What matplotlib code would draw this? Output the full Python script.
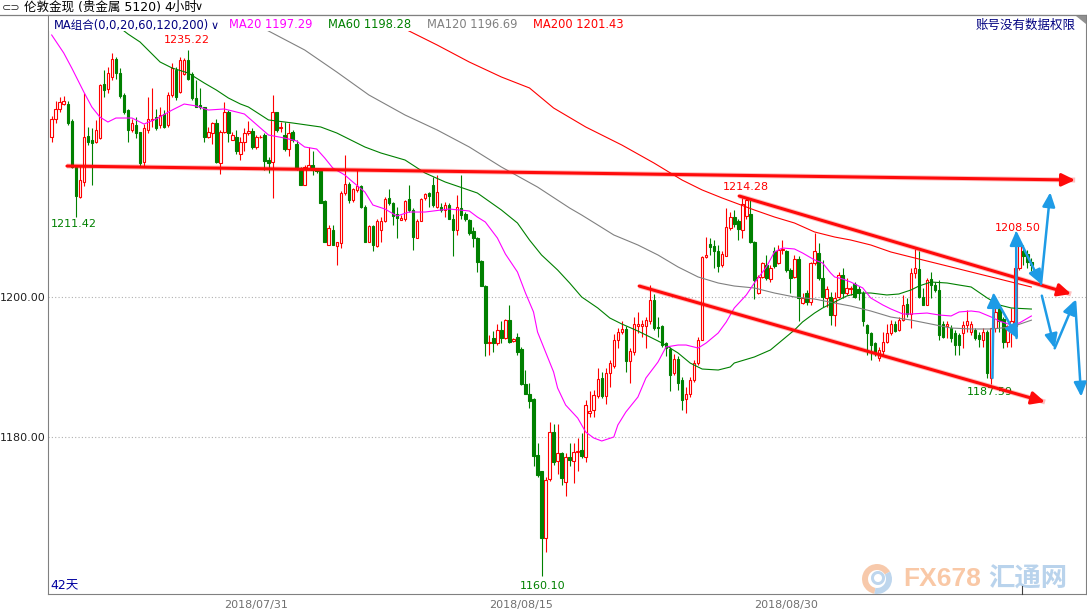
import numpy as np
import matplotlib
matplotlib.use("Agg")
import matplotlib.pyplot as plt
from matplotlib.patches import Rectangle, Polygon, Wedge
from matplotlib.lines import Line2D

plt.rcParams['font.family'] = ['DejaVu Sans', 'Noto Sans CJK SC']

# ---------------- data (4-hour candles, London gold) ----------------
opens = [1222.8, 1225.4, 1226.9, 1227.6, 1227.6, 1225.2, 1218.6, 1214.3, 1216.5, 1223.0,
         1222.5, 1222.1, 1222.7, 1230.4, 1229.7, 1231.5, 1234.0, 1232.0, 1228.8, 1226.7,
         1223.9, 1224.6, 1223.6, 1219.3, 1223.9, 1225.3, 1225.7, 1224.6, 1226.2, 1224.6,
         1228.9, 1232.5, 1229.3, 1231.9, 1233.9, 1231.9, 1228.4, 1227.4, 1227.2, 1222.9,
         1223.4, 1224.8, 1219.2, 1223.6, 1226.5, 1222.5, 1222.9, 1220.5, 1222.1, 1223.4,
         1223.7, 1221.5, 1222.8, 1223.1, 1219.6, 1219.3, 1226.4, 1224.1, 1223.2, 1221.2,
         1223.6, 1221.8, 1218.4, 1216.0, 1218.5, 1218.9, 1218.1, 1218.0, 1213.7, 1207.5,
         1209.6, 1207.3, 1207.7, 1214.8, 1216.1, 1213.9, 1215.3, 1215.9, 1212.9, 1207.9,
         1210.1, 1207.3, 1209.6, 1210.8, 1214.1, 1213.5, 1211.9, 1211.0, 1211.2, 1214.0,
         1212.4, 1208.5, 1210.9, 1214.1, 1214.8, 1216.0, 1212.9, 1212.9, 1212.4, 1213.1,
         1211.2, 1209.6, 1212.7, 1211.9, 1211.0, 1209.4, 1208.5, 1205.1, 1201.5, 1193.4,
         1194.1, 1193.4, 1195.3, 1194.1, 1196.7, 1193.7, 1194.3, 1192.6, 1187.5, 1186.2,
         1185.4, 1177.4, 1175.1, 1165.5, 1174.0, 1180.7, 1176.5, 1177.7, 1173.5, 1177.2,
         1176.6, 1177.8, 1178.1, 1177.2, 1183.4, 1183.9, 1185.8, 1188.4, 1185.9, 1189.1,
         1190.2, 1193.9, 1195.0, 1195.4, 1190.8, 1192.2, 1195.8, 1195.8, 1195.8, 1196.6,
         1199.6, 1195.7, 1195.8, 1193.4, 1192.6, 1189.1, 1191.2, 1188.1, 1185.4, 1186.2,
         1188.1, 1190.5, 1193.9, 1205.7, 1207.6, 1207.3, 1206.6, 1204.6, 1205.9, 1209.9,
         1211.5, 1210.9, 1209.6, 1211.6, 1211.9, 1207.9, 1200.5, 1202.9, 1204.6, 1202.5,
         1206.6, 1204.8, 1206.7, 1206.5, 1203.9, 1202.8, 1205.4, 1199.2, 1200.5, 1199.3,
         1204.8, 1206.3, 1202.7, 1199.9, 1200.0, 1197.4, 1200.0, 1203.1, 1200.5, 1201.1,
         1201.9, 1201.2, 1200.5, 1196.0, 1194.8, 1193.4, 1191.3, 1192.3, 1193.5, 1194.8,
         1196.2, 1195.3, 1196.7, 1199.0, 1197.5, 1203.4, 1204.0, 1200.0, 1198.9, 1202.6,
         1201.7, 1201.0, 1196.2, 1195.9, 1195.6, 1194.8, 1194.6, 1194.8, 1196.0, 1195.0,
         1195.3, 1194.5, 1193.9, 1195.0, 1188.4, 1195.5, 1198.4, 1196.9, 1193.6, 1195.5,
         1195.8, 1204.1, 1206.5, 1206.1, 1205.0]
highs = [1225.9, 1228.0, 1228.6, 1228.7, 1228.0, 1225.4, 1218.8, 1218.9, 1229.2, 1224.3,
         1224.1, 1225.3, 1230.5, 1232.4, 1232.8, 1234.9, 1234.3, 1232.7, 1229.1, 1226.8,
         1225.5, 1225.7, 1223.6, 1224.7, 1228.6, 1229.8, 1226.8, 1227.2, 1226.7, 1229.3,
         1233.5, 1232.8, 1234.3, 1234.1, 1235.22, 1232.2, 1231.0, 1229.8, 1227.2, 1224.3,
         1225.0, 1225.5, 1223.8, 1227.8, 1226.7, 1223.6, 1223.9, 1222.9, 1224.1, 1225.1,
         1224.1, 1223.1, 1223.1, 1223.4, 1220.0, 1228.9, 1226.5, 1225.0, 1225.0, 1224.8,
         1223.9, 1222.4, 1218.6, 1218.9, 1221.5, 1220.8, 1218.4, 1218.1, 1213.9, 1210.3,
         1210.3, 1207.9, 1215.1, 1220.3, 1216.5, 1215.6, 1218.1, 1216.0, 1213.1, 1210.3,
         1210.3, 1211.2, 1211.5, 1214.3, 1215.5, 1213.6, 1212.9, 1211.7, 1213.9, 1216.0,
         1212.7, 1211.2, 1214.2, 1214.9, 1215.0, 1217.2, 1217.5, 1213.4, 1213.6, 1213.4,
         1211.9, 1214.6, 1217.4, 1212.2, 1211.2, 1210.0, 1208.6, 1205.3, 1201.7, 1194.6,
         1195.1, 1196.2, 1196.5, 1196.9, 1198.9, 1194.2, 1194.8, 1192.8, 1189.6, 1187.7,
         1185.5, 1179.1, 1175.2, 1174.3, 1182.1, 1181.9, 1181.9, 1177.9, 1177.7, 1179.2,
         1179.2, 1179.8, 1180.5, 1185.3, 1186.5, 1186.7, 1189.8, 1189.3, 1189.8, 1191.0,
         1194.7, 1195.5, 1196.5, 1195.8, 1192.7, 1197.2, 1197.9, 1196.7, 1197.2, 1201.7,
         1200.4, 1197.2, 1196.0, 1193.6, 1192.9, 1191.9, 1191.5, 1188.6, 1187.2, 1188.6,
         1191.0, 1194.3, 1205.9, 1208.6, 1208.4, 1208.1, 1207.4, 1206.5, 1212.7, 1212.2,
         1212.5, 1211.1, 1214.1, 1214.28, 1213.8, 1208.0, 1203.1, 1205.0, 1206.0, 1204.6,
         1207.2, 1207.4, 1208.1, 1206.7, 1204.2, 1206.0, 1205.9, 1200.5, 1201.0, 1205.0,
         1209.2, 1207.7, 1205.3, 1201.5, 1200.7, 1200.7, 1203.6, 1204.1, 1202.7, 1201.6,
         1202.2, 1201.5, 1200.8, 1196.2, 1195.0, 1193.6, 1192.9, 1195.0, 1196.2, 1196.7,
         1196.5, 1197.2, 1200.3, 1199.8, 1204.1, 1206.9, 1206.5, 1201.3, 1202.7, 1203.6,
         1202.2, 1202.4, 1196.5, 1196.5, 1196.0, 1195.3, 1194.8, 1196.5, 1198.1, 1196.5,
         1195.5, 1195.0, 1195.5, 1195.3, 1195.5, 1198.4, 1198.9, 1197.2, 1196.0, 1198.4,
         1204.6, 1208.50, 1207.5, 1206.7, 1205.5]
lows = [1222.2, 1224.8, 1226.5, 1227.4, 1224.6, 1218.4, 1211.42, 1214.1, 1215.8, 1221.7,
        1216.0, 1222.0, 1222.6, 1228.6, 1229.1, 1231.0, 1231.2, 1228.4, 1226.2, 1222.2,
        1223.6, 1222.7, 1218.6, 1218.6, 1223.4, 1224.3, 1223.9, 1224.1, 1224.2, 1224.3,
        1228.6, 1228.2, 1229.1, 1231.7, 1231.0, 1228.1, 1227.1, 1226.9, 1222.2, 1222.7,
        1221.9, 1219.1, 1217.6, 1223.4, 1222.2, 1222.4, 1220.5, 1219.6, 1220.8, 1223.1,
        1221.2, 1221.2, 1222.7, 1218.2, 1217.7, 1214.1, 1223.6, 1223.6, 1220.8, 1220.1,
        1222.2, 1218.1, 1216.0, 1216.0, 1218.4, 1217.4, 1217.7, 1213.4, 1207.9, 1207.4,
        1207.4, 1204.6, 1207.0, 1214.6, 1213.4, 1213.6, 1215.0, 1212.7, 1207.9, 1207.9,
        1206.5, 1207.2, 1207.9, 1210.7, 1213.2, 1210.3, 1208.4, 1211.0, 1210.8, 1212.2,
        1206.7, 1208.4, 1210.8, 1213.9, 1212.9, 1212.9, 1212.7, 1212.2, 1211.5, 1211.1,
        1205.8, 1208.9, 1211.2, 1210.8, 1208.9, 1207.2, 1203.6, 1201.5, 1191.5, 1191.7,
        1192.2, 1193.1, 1193.4, 1194.0, 1193.4, 1193.6, 1191.7, 1187.4, 1186.2, 1184.1,
        1175.8, 1174.3, 1160.10, 1163.5, 1173.7, 1176.0, 1174.7, 1173.2, 1171.5, 1175.8,
        1173.4, 1175.1, 1177.0, 1176.4, 1182.9, 1182.8, 1185.6, 1185.5, 1184.7, 1187.2,
        1189.9, 1192.7, 1194.7, 1189.3, 1187.7, 1191.7, 1194.8, 1194.3, 1192.7, 1196.2,
        1195.3, 1194.3, 1192.9, 1191.5, 1186.5, 1188.9, 1186.7, 1183.9, 1183.4, 1185.7,
        1187.9, 1190.3, 1193.8, 1205.5, 1206.0, 1204.2, 1203.6, 1204.3, 1205.8, 1209.6,
        1210.0, 1208.1, 1208.4, 1211.2, 1207.7, 1199.7, 1200.4, 1202.7, 1202.4, 1202.2,
        1204.1, 1204.7, 1206.2, 1203.6, 1200.5, 1202.7, 1196.5, 1199.0, 1198.9, 1198.9,
        1204.6, 1202.4, 1198.6, 1198.6, 1196.0, 1195.8, 1199.8, 1199.8, 1200.3, 1200.3,
        1199.8, 1199.6, 1195.8, 1191.7, 1191.0, 1191.5, 1190.8, 1191.7, 1193.4, 1194.6,
        1195.0, 1195.1, 1196.5, 1197.2, 1195.6, 1202.7, 1199.8, 1198.9, 1198.9, 1199.9,
        1200.7, 1193.9, 1194.1, 1194.1, 1193.6, 1191.7, 1191.7, 1192.7, 1195.0, 1194.6,
        1193.9, 1192.8, 1192.9, 1188.4, 1187.59, 1195.0, 1195.0, 1192.7, 1192.8, 1192.9,
        1195.5, 1203.9, 1204.6, 1204.1, 1203.7]
closes = [1225.4, 1226.9, 1227.8, 1228.0, 1224.9, 1218.6, 1214.5, 1216.7, 1222.8, 1222.2,
          1222.0, 1223.9, 1230.3, 1229.6, 1232.0, 1234.0, 1232.0, 1228.7, 1226.5, 1223.8,
          1224.8, 1223.5, 1219.2, 1224.1, 1225.5, 1225.5, 1224.2, 1226.0, 1224.3, 1228.9,
          1232.7, 1228.6, 1233.8, 1233.9, 1231.1, 1228.4, 1227.2, 1227.1, 1222.9, 1223.6,
          1224.8, 1219.3, 1223.6, 1226.5, 1223.4, 1223.1, 1220.8, 1222.2, 1223.4, 1223.7,
          1221.5, 1222.8, 1222.9, 1219.4, 1219.2, 1226.4, 1223.9, 1224.3, 1221.2, 1223.5,
          1222.4, 1218.4, 1216.0, 1218.6, 1218.9, 1218.1, 1218.0, 1213.4, 1207.9, 1209.8,
          1207.5, 1207.8, 1214.8, 1216.1, 1213.9, 1215.4, 1215.8, 1212.8, 1207.9, 1210.1,
          1207.4, 1210.8, 1210.9, 1214.0, 1213.4, 1211.6, 1211.3, 1211.3, 1213.7, 1212.4,
          1208.6, 1210.9, 1214.0, 1214.7, 1214.5, 1213.1, 1215.0, 1212.4, 1213.2, 1211.2,
          1209.6, 1212.8, 1211.7, 1211.1, 1209.2, 1208.4, 1205.0, 1201.5, 1193.4, 1193.6,
          1193.4, 1195.3, 1194.1, 1196.7, 1193.6, 1194.0, 1192.2, 1187.5, 1186.2, 1185.1,
          1177.3, 1174.5, 1165.5, 1173.9, 1180.7, 1176.4, 1177.7, 1174.1, 1177.2, 1176.7,
          1177.8, 1178.0, 1177.3, 1184.6, 1183.7, 1186.0, 1188.3, 1185.8, 1189.1, 1190.5,
          1193.9, 1195.0, 1195.4, 1190.8, 1192.3, 1196.1, 1196.1, 1196.2, 1196.7, 1199.6,
          1195.5, 1195.5, 1193.1, 1192.7, 1188.8, 1191.2, 1187.7, 1185.3, 1186.2, 1188.1,
          1190.6, 1193.9, 1205.7, 1206.0, 1207.2, 1206.6, 1204.4, 1206.1, 1210.0, 1211.5,
          1210.5, 1209.7, 1213.3, 1213.9, 1207.9, 1202.4, 1202.8, 1204.8, 1202.7, 1204.2,
          1204.4, 1206.7, 1206.9, 1203.8, 1202.7, 1205.4, 1199.9, 1199.8, 1199.3, 1204.9,
          1206.5, 1202.7, 1200.0, 1201.1, 1197.4, 1199.9, 1203.1, 1200.5, 1201.3, 1201.3,
          1200.0, 1200.5, 1196.5, 1194.8, 1193.1, 1192.1, 1192.4, 1193.6, 1194.8, 1196.1,
          1195.1, 1196.7, 1198.9, 1197.5, 1203.4, 1204.1, 1200.0, 1198.9, 1202.4, 1201.7,
          1201.0, 1194.6, 1194.3, 1196.1, 1194.1, 1193.1, 1193.1, 1196.0, 1196.5, 1196.1,
          1194.1, 1194.0, 1195.0, 1189.1, 1195.5, 1197.9, 1196.5, 1193.6, 1195.8, 1196.5,
          1204.1, 1207.7, 1205.8, 1205.0, 1204.6]

# moving-average lines (candle index, value)
ma20_idx = [0, 3, 5, 8, 10, 12, 14, 16, 20, 23, 26, 30, 33, 36, 39, 43, 47, 48, 52, 54, 58, 61, 63, 66,
            68, 70, 73, 75, 78, 80, 83, 86, 89, 93, 99, 104, 106, 108, 111, 113, 116, 118, 120, 121,
            123, 125, 126, 128, 131, 133, 135, 137, 140, 141, 143, 146, 148, 151, 153, 156, 158, 161,
            163, 166, 168, 170, 173, 175, 178, 180, 182, 185, 187, 190, 192, 194, 195, 197, 199, 202,
            204, 207, 209, 212, 214, 218, 221, 224, 226, 229, 231, 234, 236, 239, 241, 244]
ma20_val = [1237.43, 1234.86, 1232.71, 1229.29, 1227.14, 1225.71, 1225.0, 1225.57, 1225.57, 1224.71,
            1225.43, 1226.71, 1227.57, 1227.29, 1226.71, 1226.86, 1226.29, 1226.14, 1224.14, 1223.14,
            1222.71, 1222.29, 1221.43, 1221.14, 1219.86, 1218.43, 1217.43, 1216.43, 1215.0, 1213.14,
            1212.57, 1211.57, 1212.14, 1212.14, 1212.57, 1212.29, 1211.43, 1210.71, 1208.43, 1206.14,
            1203.57, 1200.57, 1197.86, 1195.0, 1192.14, 1189.29, 1187.0, 1184.57, 1182.71, 1180.71,
            1179.86, 1179.43, 1180.0, 1181.71, 1183.57, 1185.71, 1188.43, 1190.71, 1192.86, 1193.14,
            1193.14, 1192.71, 1193.43, 1194.86, 1196.43, 1198.43, 1200.29, 1202.0, 1204.29, 1206.43,
            1207.0, 1206.86, 1206.29, 1205.29, 1204.86, 1203.43, 1202.86, 1202.57, 1202.14, 1201.29,
            1199.86, 1198.86, 1198.29, 1197.57, 1197.57, 1197.71, 1197.43, 1197.29, 1197.86, 1198.0,
            1197.86, 1197.14, 1196.57, 1196.0, 1196.29, 1197.29]
ma60_idx = [16, 19, 22, 27, 30, 34, 38, 41, 44, 47, 49, 54, 60, 67, 71, 78, 82, 88, 93, 98, 106, 112,
            116, 119, 122, 126, 129, 132, 136, 139, 142, 146, 149, 152, 156, 159, 162, 166, 169, 170,
            175, 179, 182, 185, 187, 190, 192, 195, 198, 201, 204, 208, 211, 214, 216, 219, 223, 226,
            229, 233, 236, 239, 244]
ma60_val = [1238.9, 1237.57, 1236.43, 1233.57, 1232.71, 1232.0, 1230.57, 1229.57, 1228.43, 1227.57,
            1227.14, 1225.29, 1224.86, 1224.29, 1223.43, 1221.43, 1220.57, 1219.57, 1217.71, 1216.43,
            1214.86, 1212.43, 1210.57, 1208.14, 1206.0, 1203.86, 1202.0, 1200.0, 1198.43, 1197.0,
            1196.14, 1195.14, 1194.29, 1193.43, 1192.0, 1190.57, 1189.71, 1189.57, 1190.0, 1190.57,
            1191.43, 1192.43, 1193.86, 1195.29, 1196.43, 1197.71, 1198.43, 1199.29, 1200.14, 1200.57,
            1200.57, 1200.29, 1200.43, 1201.0, 1201.57, 1202.14, 1202.0, 1201.71, 1201.43, 1199.86,
            1198.86, 1198.43, 1198.28]
ma120_idx = [49, 54, 63, 71, 79, 88, 96, 104, 112, 121, 129, 132, 136, 140, 146, 151, 156, 161, 166,
             170, 175, 180, 185, 190, 195, 199, 204, 209, 214, 219, 224, 229, 234, 239, 244]
ma120_val = [1239.43, 1238.0, 1235.29, 1232.14, 1228.86, 1226.0, 1223.86, 1221.43, 1218.57, 1215.71,
             1212.71, 1211.71, 1210.29, 1208.86, 1207.43, 1206.0, 1204.29, 1202.86, 1202.0, 1201.57,
             1201.29, 1200.57, 1200.0, 1199.71, 1199.14, 1198.71, 1198.0, 1197.14, 1196.71, 1196.14,
             1195.57, 1195.43, 1195.43, 1195.71, 1196.69]
ma200_idx = [84, 89, 96, 104, 112, 119, 125, 133, 142, 150, 157, 162, 167, 175, 180, 185, 190, 195,
             199, 204, 209, 214, 219, 224, 229, 234, 239, 244]
ma200_val = [1239.43, 1238.0, 1236.0, 1233.57, 1231.43, 1229.86, 1227.0, 1224.29, 1221.71, 1219.14,
             1216.71, 1215.29, 1214.14, 1212.43, 1211.43, 1210.57, 1209.29, 1208.57, 1208.14, 1207.43,
             1206.43, 1205.71, 1205.0, 1204.29, 1203.57, 1202.86, 1202.14, 1201.43]

y_ticks = [1180.0, 1200.0]
date_idx = [51, 117, 183]
date_labels = ['2018/07/31', '2018/08/15', '2018/08/30']

# hand-drawn red trend lines (start idx, start price, end idx, end price)
trend_x0 = [3.8, 171.2, 146.3]
trend_y0 = [1218.71, 1214.43, 1201.57]
trend_x1 = [254.9, 253.9, 247.4]
trend_y1 = [1216.71, 1200.43, 1185.0]

# hand-drawn blue arrows
blue_x0 = [234.3, 234.6, 240.3, 240.2, 246.4, 246.6, 249.8, 254.9]
blue_y0 = [1188.43, 1200.29, 1194.14, 1209.14, 1201.86, 1200.19, 1192.67, 1199.29]
blue_x1 = [234.6, 240.7, 240.2, 246.5, 248.7, 249.8, 254.9, 256.4]
blue_y1 = [1200.57, 1194.0, 1209.43, 1201.81, 1214.96, 1192.67, 1199.57, 1185.76]

# ---------------- figure ----------------
W, H = 1087, 614
RED = '#FF0000'
GREEN = '#008000'
fig = plt.figure(figsize=(W / 100, H / 100), dpi=100)
fig.patch.set_facecolor('white')

L, R, T, B = 48, 1086, 15, 594
ax = fig.add_axes([L / W, (H - B) / H, (R - L) / W, (B - T) / H])
ax.set_facecolor('white')
ax.set_xlim(-0.92, 257.6)
ax.set_ylim(1157.571, 1240.286)
for s in ax.spines.values():
    s.set_color('#808080')
    s.set_linewidth(0.8)

o = np.array(opens); h = np.array(highs); l = np.array(lows); c = np.array(closes)
x = np.arange(len(o))
up = c >= o
blo = np.minimum(o, c); bhi = np.maximum(o, c)
bh = np.maximum(bhi - blo, 0.08)

# wicks
ax.vlines(x[up], bhi[up], h[up], color=RED, lw=0.8, zorder=2)
ax.vlines(x[up], l[up], blo[up], color=RED, lw=0.8, zorder=2)
ax.vlines(x[~up], l[~up], h[~up], color=GREEN, lw=0.8, zorder=2)
# bodies
ax.bar(x[up], bh[up], bottom=blo[up], width=0.62, facecolor='white', edgecolor=RED,
       linewidth=0.8, zorder=3)
ax.bar(x[~up], bh[~up], bottom=blo[~up], width=0.62, facecolor=GREEN, edgecolor=GREEN,
       linewidth=0.8, zorder=3)

# moving averages
ax.plot(ma200_idx, ma200_val, color='#FF0000', lw=0.8, zorder=4)
ax.plot(ma120_idx, ma120_val, color='#808080', lw=0.8, zorder=4)
ax.plot(ma60_idx, ma60_val, color='#008000', lw=0.8, zorder=4)
ax.plot(ma20_idx, ma20_val, color='#FF00FF', lw=0.8, zorder=4)

# grid
for yv in y_ticks:
    ax.axhline(yv, color='#B0B0B0', lw=0.8, ls=(0, (1, 2)), zorder=1)

ax.set_yticks(y_ticks)
ax.set_yticklabels([f'{v:.2f}' for v in y_ticks], fontsize=8, color='#202020')
ax.set_xticks(date_idx)
ax.set_xticklabels(date_labels, fontsize=8, color='#707070')
ax.tick_params(axis='both', length=0)
ax.tick_params(axis='y', pad=2)
ax.tick_params(axis='x', pad=4)

# extreme labels
px = 0.72  # points per pixel
hi_i = int(np.argmax(h[:60]))
ax.annotate(f'{h[hi_i]:.2f}', (hi_i, h[hi_i]), xytext=(-1 * px, 10.5 * px), textcoords='offset points',
            ha='center', va='center', fontsize=8, color=RED, zorder=8)
lo_i = int(np.argmin(l[:20]))
ax.annotate(f'{l[lo_i]:.2f}', (lo_i, l[lo_i]), xytext=(-24.5 * px, -7 * px), textcoords='offset points',
            ha='left', va='center', fontsize=8, color=GREEN, zorder=8)
hi2 = 150 + int(np.argmax(h[150:200]))
ax.annotate(f'{h[hi2]:.2f}', (hi2, h[hi2]), xytext=(0, 10 * px), textcoords='offset points',
            ha='center', va='center', fontsize=8, color=RED, zorder=8)
lo2 = int(np.argmin(l))
ax.annotate(f'{l[lo2]:.2f}', (lo2, l[lo2]), xytext=(1.5 * px, -9.7 * px), textcoords='offset points',
            ha='center', va='center', fontsize=8, color=GREEN, zorder=8)
hi3 = 220 + int(np.argmax(h[220:]))
ax.annotate(f'{h[hi3]:.2f}', (hi3, h[hi3]), xytext=(-1.3 * px, 9.5 * px), textcoords='offset points',
            ha='center', va='center', fontsize=8, color=RED, zorder=8)
lo3 = 220 + int(np.argmin(l[220:]))
ax.annotate(f'{l[lo3]:.2f}', (lo3, l[lo3]), xytext=(-1.2 * px, -8 * px), textcoords='offset points',
            ha='center', va='center', fontsize=8, color=GREEN, zorder=8)

# red trend lines with arrow heads (soft halo + core)
for x0, y0, x1, y1 in zip(trend_x0, trend_y0, trend_x1, trend_y1):
    ax.plot([x0, x1], [y0, y1], color='#FF0000', lw=3.6, alpha=0.25, solid_capstyle='butt', zorder=8)
    ax.annotate('', xy=(x1, y1), xytext=(x0, y0),
                arrowprops=dict(arrowstyle='-|>,head_length=0.8,head_width=0.38', color='#FF0A0A',
                                lw=2.2, shrinkA=0, shrinkB=0, mutation_scale=10),
                annotation_clip=False, zorder=9)

# blue arrows
for x0, y0, x1, y1 in zip(blue_x0, blue_y0, blue_x1, blue_y1):
    ax.annotate('', xy=(x1, y1), xytext=(x0, y0),
                arrowprops=dict(arrowstyle='-|>,head_length=0.85,head_width=0.38', color='#1E9BE6',
                                lw=1.8, shrinkA=0, shrinkB=0, mutation_scale=10),
                annotation_clip=False, zorder=10)

# ---------------- overlay for header / decorations (pixel coordinates) ----------------
ov = fig.add_axes([0, 0, 1, 1], zorder=10)
ov.set_xlim(0, W)
ov.set_ylim(H, 0)
ov.axis('off')
ov.patch.set_alpha(0)

# header band inside plot
ov.add_patch(Rectangle((49, 16), R - 50, 15, facecolor='white', edgecolor='none', zorder=1))
ov.add_line(Line2D([0, R], [15, 15], color='#808080', lw=0.9, zorder=2))
ov.add_patch(Polygon([[1076, 16], [1085.5, 16], [1085.5, 24]], closed=True, facecolor='#909090',
                     edgecolor='none', zorder=2))

# title row
ov.text(2, 7.5, '⊂⊃', fontsize=8, color='#303030', va='center', ha='left', zorder=3)
ov.text(24, 7.5, '伦敦金现 (贵金属 5120)', fontsize=9, color='#000000', va='center', ha='left', zorder=3)
ov.text(164, 7.5, '4小时', fontsize=9, color='#000000', va='center', ha='left', zorder=3)
ov.text(195, 7.5, '∨', fontsize=8, color='#000000', va='center', ha='left', zorder=3)

# MA legend row
ov.text(54, 25, 'MA组合(0,0,20,60,120,200)', fontsize=8.3, color='#000080', va='center', ha='left', zorder=3)
ov.text(211, 26, '∨', fontsize=8, color='#000080', va='center', ha='left', zorder=3)
ov.text(229, 25, f'MA20 {ma20_val[-1]:.2f}', fontsize=8.3, color='#FF00FF', va='center', ha='left', zorder=3)
ov.text(328, 25, f'MA60 {ma60_val[-1]:.2f}', fontsize=8.3, color='#008000', va='center', ha='left', zorder=3)
ov.text(427, 25, f'MA120 {ma120_val[-1]:.2f}', fontsize=8.3, color='#808080', va='center', ha='left', zorder=3)
ov.text(533, 25, f'MA200 {ma200_val[-1]:.2f}', fontsize=8.3, color='#FF0000', va='center', ha='left', zorder=3)
ov.text(1076, 25, '账号没有数据权限', fontsize=9, color='#000080', va='center', ha='right', zorder=3)

ov.text(50, 586, '42天', fontsize=9, color='#0000A0', va='center', ha='left', zorder=3)
ov.add_line(Line2D([1021.5, 1021.5], [586, 594], color='#404040', lw=0.8, zorder=3))

# watermark
ov.add_patch(Wedge((877, 579), 15, 100, 330, width=6, facecolor='#F7C4A2', edgecolor='none', alpha=0.9, zorder=2))
ov.add_patch(Wedge((877, 579), 15, -30, 100, width=6, facecolor='#B7D2EC', edgecolor='none', alpha=0.9, zorder=2))
ov.add_patch(Wedge((878, 578), 7, 0, 360, width=3, facecolor='#B7D2EC', edgecolor='none', alpha=0.9, zorder=2))
ov.text(903, 579, 'FX678', fontsize=19, fontweight='bold', family='Liberation Sans',
        color='#F9C8A6', va='center', ha='left', zorder=2)
ov.text(988, 579, '汇通网', fontsize=19, fontweight='bold', family=['Noto Sans CJK SC'],
        color='#B9D3EC', va='center', ha='left', zorder=2)

fig.savefig('out.png', dpi=100)
